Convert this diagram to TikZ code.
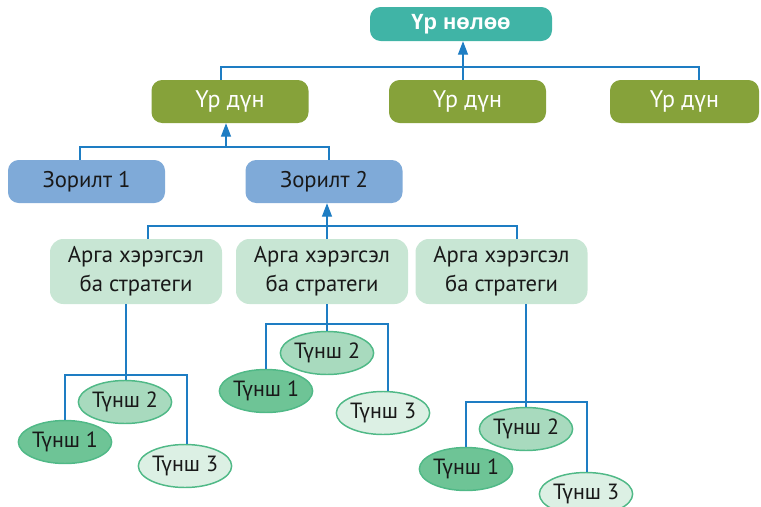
\documentclass[tikz,border=0pt]{standalone}
\usepackage{fontspec}
\setmainfont{PT Sans}
\newfontfamily\headfont{Liberation Sans}
\usetikzlibrary{shapes.geometric,arrows.meta,calc}

\definecolor{linkblue}{RGB}{30,125,195}
\definecolor{teal}{RGB}{64,180,166}
\definecolor{olive}{RGB}{134,162,58}
\definecolor{goalblue}{RGB}{127,170,216}
\definecolor{toolgreen}{RGB}{200,230,212}
\definecolor{pdark}{RGB}{110,196,150}
\definecolor{pmid}{RGB}{168,218,190}
\definecolor{plight}{RGB}{220,240,228}
\definecolor{pedge}{RGB}{80,185,135}
\definecolor{ink}{RGB}{25,25,25}

\tikzset{
  box/.style={rectangle, rounded corners=8pt, inner sep=0pt, align=center,
              font=\fontsize{17}{20}\selectfont},
  impact/.style={box, fill=teal, text=white, minimum width=136.5pt, minimum height=25.5pt,
                 font=\headfont\bfseries\fontsize{16.5}{19}\selectfont},
  result/.style={box, fill=olive, text=white, minimum width=117.75pt, minimum height=32.25pt,
                 font=\fontsize{18}{21}\selectfont},
  goal/.style={box, fill=goalblue, text=ink, minimum width=117.75pt, minimum height=32.25pt},
  tool/.style={box, fill=toolgreen, text=ink, minimum width=129pt, minimum height=48.75pt,
               rounded corners=10pt, font=\fontsize{17}{21.75}\selectfont},
  partner/.style={ellipse, draw=pedge, line width=1.1pt, inner sep=0pt, text=ink,
                  minimum width=69pt, minimum height=32.25pt,
                  font=\fontsize{16.5}{19}\selectfont},
  p1/.style={partner, fill=pdark},
  p2/.style={partner, fill=pmid},
  p3/.style={partner, fill=plight},
  ln/.style={draw=linkblue, line width=0.8pt},
  arr/.style={ln, -{Triangle[length=10pt,width=7.5pt]}},
}

\begin{document}
\begin{tikzpicture}[x=0.75pt, y=-0.75pt]
\useasboundingbox (0,0) rectangle (761,507);

% top level: impact
\node[impact] (top) at (461,24) {Үр нөлөө};

% results
\node[result] (r1) at (230,101.5) {Үр дүн};
\node[result] (r2) at (467.5,101.5) {Үр дүн};
\node[result, minimum width=111.75pt] (r3) at (684.5,101.5) {Үр дүн};

% goals
\node[goal] (z1) at (86.5,181.5) {Зорилт 1};
\node[goal] (z2) at (324,181.5) {Зорилт 2};

% tools and strategies
\node[tool] (a1) at (136,271.5) {Арга хэрэгсэл\\ба стратеги};
\node[tool] (a2) at (322,271.5) {Арга хэрэгсэл\\ба стратеги};
\node[tool] (a3) at (501.5,271.5) {Арга хэрэгсэл\\ба стратеги};

% bus junctions
\coordinate (bA) at (463,67);
\coordinate (bB) at (226,147);
\coordinate (bC) at (327,226);
\coordinate (c1) at (126,375);
\coordinate (c2) at (327,324);
\coordinate (c3) at (526,402);

% results -> impact
\draw[ln] ($(r1.north)+(-9,0)$) |- (bA) -| ($(r3.north)+(14.5,0)$);
\draw[arr] (bA |- r2.north) -- (bA |- top.south);

% goals -> result
\draw[ln] ($(z1.north)+(-6.5,0)$) |- (bB) -| ($(z2.north)+(5,0)$);
\draw[arr] (bB) -- (bB |- r1.south);

% tools -> goal
\draw[ln] ($(a1.north)+(12,0)$) |- (bC) -| ($(a3.north)+(15.5,0)$);
\draw[arr] (bC |- a2.north) -- (bC |- z2.south);

% partners: middle one first, the other two overlap it
\node[p2] (t12) at (125,402) {Түнш 2};
\node[p2] (t22) at (327,353) {Түнш 2};
\node[p2] (t32) at (526,429) {Түнш 2};

\node[p1] (t11) at (65,442)  {Түнш 1};
\node[p3] (t13) at (185,466) {Түнш 3};
\node[p1] (t21) at (266,391) {Түнш 1};
\node[p3] (t23) at (383,413) {Түнш 3};
\node[p1] (t31) at (466,469) {Түнш 1};
\node[p3] (t33) at (586,494) {Түнш 3};

% partner cluster connectors
\draw[ln] (c1 |- a1.south) -- (c1 |- t12.north);
\draw[ln] (t11.north) |- (c1) -| ($(t13.north)+(2,0)$);
\draw[ln] (c2 |- a2.south) -- (c2 |- t22.north);
\draw[ln] (t21.north) |- (c2) -| ($(t23.north)+(5,0)$);
\draw[ln] (c3 |- a3.south) -- (c3 |- t32.north);
\draw[ln] (t31.north) |- (c3) -| ($(t33.north)+(1,0)$);
\end{tikzpicture}
\end{document}
